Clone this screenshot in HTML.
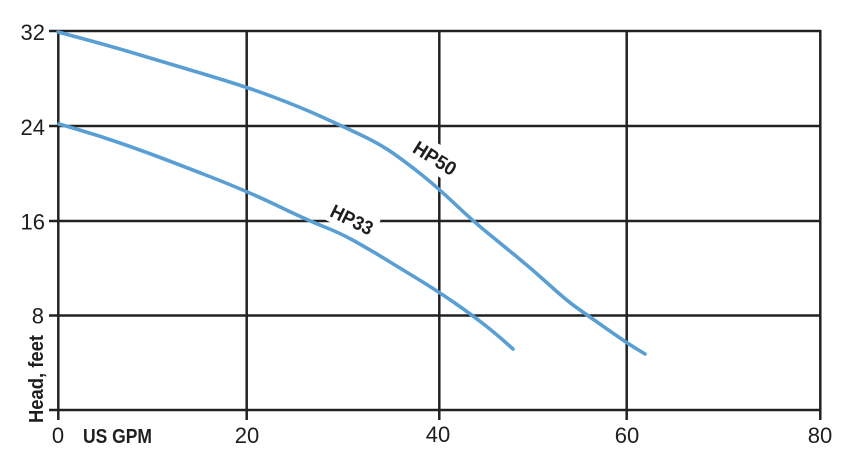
<!DOCTYPE html>
<html><head><meta charset="utf-8"><style>
html,body{margin:0;padding:0;background:#fff;}
svg{display:block;}
text{font-family:"Liberation Sans",Arial,sans-serif;fill:#1e1e1e;}
</style></head><body>
<svg width="850" height="470" viewBox="0 0 850 470" xmlns="http://www.w3.org/2000/svg">
<g stroke="#222" stroke-width="2.5" fill="none">
  <line x1="49" y1="31" x2="821" y2="31"/>
  <line x1="49" y1="126" x2="820" y2="126"/>
  <line x1="49" y1="221" x2="820" y2="221"/>
  <line x1="49" y1="315.5" x2="820" y2="315.5"/>
  <line x1="49" y1="410" x2="821" y2="410"/>
  <line x1="58.3" y1="30" x2="58.3" y2="420"/>
  <line x1="246.7" y1="31" x2="246.7" y2="420"/>
  <line x1="439.3" y1="31" x2="439.3" y2="420"/>
  <line x1="626.7" y1="31" x2="626.7" y2="420"/>
  <line x1="820.3" y1="30" x2="820.3" y2="420"/>
</g>
<rect x="-26" y="-12" width="52" height="24" fill="#fff" transform="translate(352,219.5) rotate(26)"/>
<rect x="-27" y="-14" width="54" height="28" fill="#fff" transform="translate(435,158) rotate(32)"/>
<g stroke="#5a9fd3" stroke-width="3.6" fill="none" stroke-linecap="round" stroke-linejoin="round">
  <path d="M58,32 L84,39 Q110,46 138.5,54.5 Q167,63 207,75 Q247,87 273.5,97 Q300,107 321,116.5 Q342,126 361,135 Q380,144 393.5,153.5 Q407,163 422,175 Q437,187 455,204 Q473,221 486.5,232 Q500,243 516.5,256.5 Q533,270 549.5,285 Q566,300 576.5,307.5 Q587,315 607,329 Q627,343 636,348.5 L645,354"/>
  <path d="M59,124 L79.5,130 Q100,136 120,143 Q140,150 153.5,155 Q167,160 207,175.5 Q247,191 277,205.5 Q307,220 323.5,226.5 Q340,233 353.5,240.5 Q367,248 383.5,258 Q400,268 419.5,280 Q439,292 455.5,303.5 Q472,315 483.5,324 Q495,333 504,341 L513,349"/>
</g>
<g font-size="22" text-anchor="end">
  <text x="45" y="40">32</text>
  <text x="45" y="135">24</text>
  <text x="45" y="229.5">16</text>
  <text x="44" y="323.5">8</text>
</g>
<g font-size="22" text-anchor="middle">
  <text x="58" y="443">0</text>
  <text x="247" y="443">20</text>
  <text x="438" y="442">40</text>
  <text x="627" y="443">60</text>
  <text x="820" y="443">80</text>
</g>
<text x="83" y="443" font-size="20" font-weight="bold" textLength="69" lengthAdjust="spacingAndGlyphs">US GPM</text>
<text transform="translate(43,423) rotate(-90)" x="0" y="0" font-size="20" font-weight="bold" textLength="88" lengthAdjust="spacingAndGlyphs">Head, feet</text>
<text transform="translate(352,219.5) rotate(26)" x="0" y="7" font-size="19.5" font-weight="bold" text-anchor="middle" textLength="45" lengthAdjust="spacingAndGlyphs">HP33</text>
<text transform="translate(435,158) rotate(32)" x="0" y="7" font-size="19.5" font-weight="bold" text-anchor="middle" textLength="47" lengthAdjust="spacingAndGlyphs">HP50</text>
</svg>
</body></html>
